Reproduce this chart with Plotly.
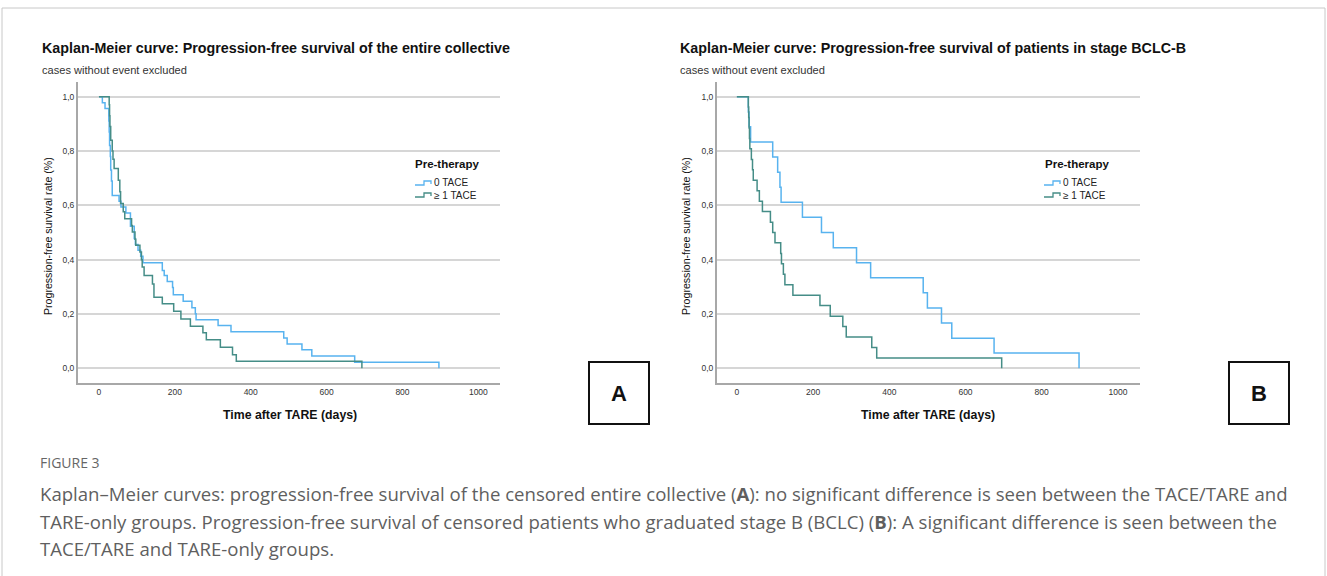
import plotly.graph_objects as go

W, H = 1327, 576

# ---------------- data ----------------
# Panel A: entire collective
a_t_0tace = [0, 9, 16, 26, 27, 28, 30, 31, 33, 35, 53, 58, 71, 83, 93, 96, 103, 110, 116,
             167, 172, 180, 194, 196, 222, 245, 254, 256, 314, 348, 487, 496, 535, 561, 674, 896]
a_s_0tace = [1.0, 0.978, 0.956, 0.91, 0.87, 0.82, 0.78, 0.73, 0.69, 0.636, 0.615, 0.594, 0.572,
             0.523, 0.478, 0.456, 0.435, 0.413, 0.389, 0.36, 0.342, 0.32, 0.298, 0.271, 0.247,
             0.223, 0.201, 0.179, 0.158, 0.135, 0.112, 0.09, 0.068, 0.045, 0.022, 0.0]

a_t_1tace = [0, 27, 28, 29, 31, 35, 37, 40, 51, 55, 57, 64, 68, 86, 88, 95, 97, 108, 112, 114,
             119, 141, 145, 167, 197, 216, 241, 274, 283, 320, 352, 362, 693]
a_s_1tace = [1.0, 0.97, 0.93, 0.89, 0.84, 0.80, 0.77, 0.736, 0.692, 0.65, 0.607, 0.576, 0.551,
             0.526, 0.502, 0.475, 0.453, 0.428, 0.40, 0.373, 0.342, 0.31, 0.262, 0.238, 0.21,
             0.182, 0.155, 0.131, 0.105, 0.078, 0.05, 0.026, 0.0]

# Panel B: patients in stage BCLC-B
b_t_0tace = [0, 30, 32, 36, 94, 107, 113, 116, 172, 222, 253, 314, 351, 489, 500, 537, 564, 675, 898]
b_s_0tace = [1.0, 0.944, 0.889, 0.833, 0.778, 0.722, 0.667, 0.611, 0.556, 0.5, 0.444, 0.389,
             0.333, 0.278, 0.222, 0.167, 0.111, 0.056, 0.0]

b_t_1tace = [0, 30, 31, 32, 33, 34, 38, 41, 43, 53, 59, 67, 88, 94, 100, 115, 117, 122, 126,
             147, 218, 245, 278, 287, 354, 367, 695]
b_s_1tace = [1.0, 0.962, 0.923, 0.885, 0.846, 0.808, 0.769, 0.731, 0.692, 0.654, 0.615, 0.577,
             0.538, 0.5, 0.462, 0.423, 0.385, 0.346, 0.308, 0.269, 0.231, 0.192, 0.154, 0.115,
             0.077, 0.038, 0.0]

x_ticks = [0, 200, 400, 600, 800, 1000]
y_ticks = [0.0, 0.2, 0.4, 0.6, 0.8, 1.0]
group_labels = ["0 TACE", "\u2265 1 TACE"]
titles = ["Kaplan-Meier curve: Progression-free survival of the entire collective",
          "Kaplan-Meier curve: Progression-free survival of patients in stage BCLC-B"]
subtitle = "cases without event excluded"
x_title = "Time after TARE (days)"
y_title = "Progression-free survival rate (%)"
legend_title = "Pre-therapy"
caption_head = "FIGURE 3"
caption_lines = [
    "Kaplan\u2013Meier curves: progression-free survival of the censored entire collective (<b>A</b>): no significant difference is seen between the TACE/TARE and",
    "TARE-only groups. Progression-free survival of censored patients who graduated stage B (BCLC) (<b>B</b>): A significant difference is seen between the",
    "TACE/TARE and TARE-only groups.",
]

# ---------------- styling ----------------
C_LIGHT = "#58b3ef"
C_DARK = "#458d87"
FONT = "Liberation Sans, Arial, sans-serif"
CAP_FONT = "Open Sans, sans-serif"


def px(x, y):
    return x / W, 1 - y / H


fig = go.Figure()

panels = [
    dict(xa="x", ya="y", x0=77.7, x1=500, xr=[-56, 1057],
         data=[(a_t_0tace, a_s_0tace), (a_t_1tace, a_s_1tace)]),
    dict(xa="x2", ya="y2", x0=716.7, x1=1140, xr=[-53, 1058],
         data=[(b_t_0tace, b_s_0tace), (b_t_1tace, b_s_1tace)]),
]
colors = [C_LIGHT, C_DARK]

for p in panels:
    for (t, s), c, name in zip(p["data"], colors, group_labels):
        fig.add_trace(go.Scatter(x=t, y=s, mode="lines", line_shape="hv",
                                 line=dict(color=c, width=1.5), name=name,
                                 xaxis=p["xa"], yaxis=p["ya"], showlegend=False,
                                 hoverinfo="skip"))

y_dom = [1 - 383 / H, 1 - 82 / H]
ax_common = dict(showline=True, linecolor="#a8a8a8", linewidth=1.5, ticks="",
                 zeroline=False, tickfont=dict(family=FONT, size=8.5, color="#333"))
for i, p in enumerate(panels):
    sfx = "" if i == 0 else str(i + 1)
    fig.update_layout(**{
        "xaxis" + sfx: dict(domain=[p["x0"] / W, p["x1"] / W], range=p["xr"],
                            tickvals=x_ticks, showgrid=False,
                            anchor="y" + sfx, **ax_common),
        "yaxis" + sfx: dict(domain=y_dom, range=[-0.054, 1.054], tickvals=y_ticks,
                            tickformat=".1f", showgrid=True, gridcolor="#d6d6d6",
                            gridwidth=1.5, anchor="x" + sfx, **ax_common),
    })

ann = []
shapes = []

# panel texts
for i, (xl, cx, leg_t, leg_s) in enumerate([(40, 290, 413, 415), (678, 928, 1043, 1044)]):
    ann.append(dict(text="<b>" + titles[i] + "</b>", x=px(xl, 48)[0], y=px(xl, 48)[1],
                    xanchor="left", yanchor="middle",
                    font=dict(family=FONT, size=14.3, color="#111")))
    ann.append(dict(text=subtitle, x=px(xl, 70)[0], y=px(xl, 70)[1],
                    xanchor="left", yanchor="middle",
                    font=dict(family=FONT, size=11.1, color="#333")))
    ann.append(dict(text="<b>" + x_title + "</b>", x=px(cx, 415)[0], y=px(cx, 415)[1],
                    xanchor="center", yanchor="middle",
                    font=dict(family=FONT, size=12.3, color="#111")))
    yx = 48 if i == 0 else 686
    ann.append(dict(text=y_title, x=px(yx, 236)[0], y=px(yx, 236)[1], textangle=-90,
                    xanchor="center", yanchor="middle",
                    font=dict(family=FONT, size=10.6, color="#111")))
    # legend
    ann.append(dict(text="<b>" + legend_title + "</b>", x=px(leg_t, 164)[0], y=px(leg_t, 164)[1],
                    xanchor="left", yanchor="middle",
                    font=dict(family=FONT, size=11.5, color="#111")))
    for j, (lab, c) in enumerate(zip(group_labels, colors)):
        yy = 183 + 12 * j
        pts = [(leg_s, yy + 2), (leg_s + 9, yy + 2), (leg_s + 9, yy - 2),
               (leg_s + 16, yy - 2), (leg_s + 16, yy + 1)]
        path = "M " + " L ".join("%f,%f" % px(a, b) for a, b in pts)
        shapes.append(dict(type="path", path=path, xref="paper", yref="paper",
                           line=dict(color=c, width=1.3)))
        ann.append(dict(text=lab, x=px(leg_s + 17, yy)[0], y=px(leg_s + 17, yy)[1],
                        xanchor="left", yanchor="middle",
                        font=dict(family=FONT, size=10, color="#222")))

# A / B boxes
for lab, bx in [("A", 589), ("B", 1229)]:
    x0, y0 = px(bx, 362)
    x1, y1 = px(bx + 60, 424)
    shapes.append(dict(type="rect", xref="paper", yref="paper", x0=x0, x1=x1, y0=y1, y1=y0,
                       line=dict(color="#111", width=2)))
    ann.append(dict(text="<b>" + lab + "</b>", x=(x0 + x1) / 2, y=(y0 + y1) / 2,
                    xanchor="center", yanchor="middle",
                    font=dict(family=FONT, size=22, color="#111")))

# outer frame
shapes.append(dict(type="rect", xref="paper", yref="paper",
                   x0=px(2, 0)[0], x1=px(1325, 0)[0], y0=-0.05, y1=px(0, 8)[1],
                   line=dict(color="#c8c8c8", width=1)))

# caption
ann.append(dict(text=caption_head, x=px(38, 462)[0], y=px(38, 462)[1], xanchor="left",
                yanchor="middle", font=dict(family=CAP_FONT, size=14, color="#666")))
for k, line in enumerate(caption_lines):
    yy = [493, 521, 548][k]
    ann.append(dict(text=line, x=px(38, yy)[0], y=px(38, yy)[1], xanchor="left",
                    yanchor="middle",
                    font=dict(family=CAP_FONT, size=18.6, color="#5f5f5f")))

for a in ann:
    a.update(xref="paper", yref="paper", showarrow=False)

fig.update_layout(width=W, height=H, margin=dict(l=0, r=0, t=0, b=0),
                  paper_bgcolor="white", plot_bgcolor="white", separators=",.",
                  annotations=ann, shapes=shapes, showlegend=False)

fig.write_html("out.html")
